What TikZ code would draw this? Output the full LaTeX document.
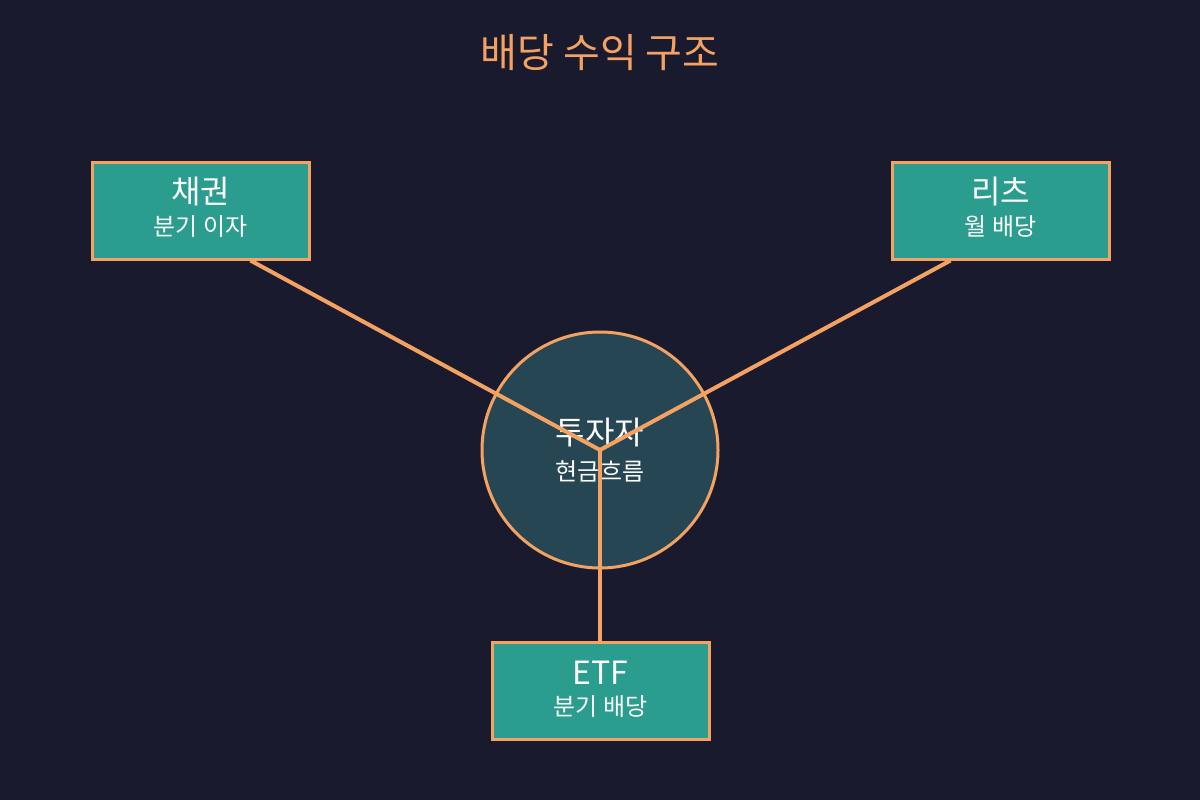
\documentclass[tikz,border=0pt]{standalone}
\usepackage{fontspec}
\setmainfont{Noto Sans CJK KR}
\definecolor{bg}{HTML}{1A1A2E}
\definecolor{boxfill}{HTML}{2A9D8F}
\definecolor{accent}{HTML}{F4A261}
\definecolor{circfill}{HTML}{264653}
\begin{document}
\begin{tikzpicture}[x=1pt,y=-1pt,
  srcbox/.style={draw=accent,line width=3pt,fill=boxfill,minimum width=217pt,minimum height=97pt,inner sep=0pt},
  conn/.style={draw=accent,line width=4pt},
  big/.style={font=\fontsize{32}{36}\selectfont,text=white},
  small/.style={font=\fontsize{24}{28}\selectfont,text=white}]
\fill[bg] (0,0) rectangle (1200,800);
\useasboundingbox (0,0) rectangle (1200,800);
\node[text=accent,font=\fontsize{40}{46}\selectfont] (title) at (600,53) {배당 수익 구조};
\node[circle,draw=accent,line width=3pt,fill=circfill,minimum size=236pt,inner sep=0pt] (inv) at (600,450) {};
\node[big] (invt) at (600,433) {투자자};
\node[small] (invs) at (600,471) {현금흐름};
\node[srcbox] (bond) at (200.5,210.5) {};
\node[big] (bondt) at (200.5,192) {채권};
\node[small] (bonds) at (200.5,227) {분기 이자};
\node[srcbox] (reit) at (1000.5,210.5) {};
\node[big] (reitt) at (1000.5,192) {리츠};
\node[small] (reits) at (1000.5,227) {월 배당};
\node[srcbox] (etf) at (600.5,690.5) {};
\node[big] (etft) at (600.5,673) {ETF};
\node[small] (etfs) at (600.5,707) {분기 배당};
\coordinate (c) at (600,450);
\path (bond.south) ++(50,0) coordinate (b1);
\path (reit.south) ++(-50,0) coordinate (r1);
\coordinate (e1) at (600,642);
\draw[conn] (b1) -- (c);
\draw[conn] (r1) -- (c);
\draw[conn] (e1) -- (c);
\end{tikzpicture}
\end{document}
